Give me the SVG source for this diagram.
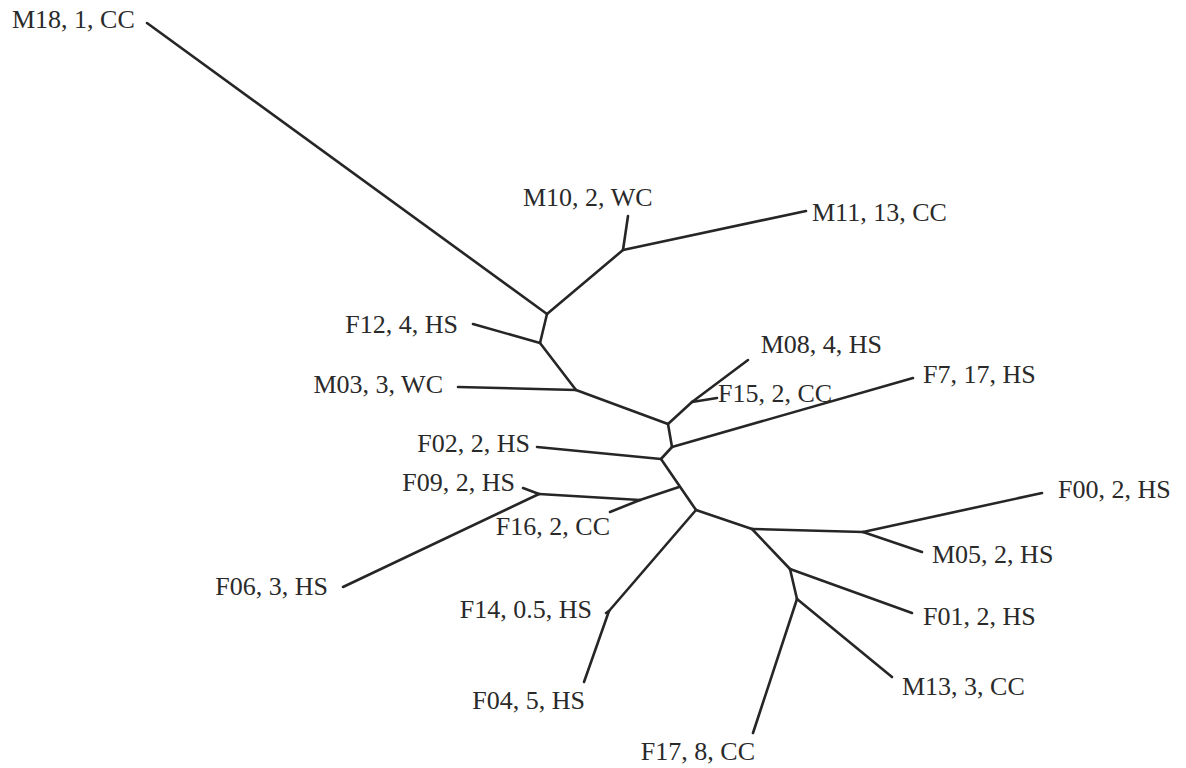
<svg xmlns="http://www.w3.org/2000/svg" width="1186" height="768" viewBox="0 0 1186 768">
<style>
.e{stroke:#262626;stroke-width:2.6;stroke-linecap:round;fill:none}
text{font-family:"Liberation Serif","Times New Roman",serif;font-size:26px;fill:#2a2a2a}
.r{text-anchor:end}
</style>
<rect width="1186" height="768" fill="#ffffff"/>
<g id="connectors">
<path class="e" d="M147,23 L547,314"/>
<path class="e" d="M547,314 L623,250"/>
<path class="e" d="M623,250 L628,216"/>
<path class="e" d="M623,250 L806,211"/>
<path class="e" d="M547,314 L540,343"/>
<path class="e" d="M540,343 L473,324"/>
<path class="e" d="M540,343 L576,390"/>
<path class="e" d="M576,390 L458,387"/>
<path class="e" d="M576,390 L668,424"/>
<path class="e" d="M668,424 L692,402"/>
<path class="e" d="M692,402 L748,360"/>
<path class="e" d="M692,402 L717,398"/>
<path class="e" d="M668,424 L672,447"/>
<path class="e" d="M672,447 L913,378"/>
<path class="e" d="M672,447 L661,459"/>
<path class="e" d="M661,459 L537,447"/>
<path class="e" d="M661,459 L696,510"/>
<path class="e" d="M679,487 L640,500"/>
<path class="e" d="M640,500 L610,512"/>
<path class="e" d="M640,500 L539,494"/>
<path class="e" d="M539,494 L523,488"/>
<path class="e" d="M539,494 L343,587"/>
<path class="e" d="M696,510 L752,529"/>
<path class="e" d="M696,510 L609,611"/>
<path class="e" d="M609,611 L606,613"/>
<path class="e" d="M609,611 L584,682"/>
<path class="e" d="M752,529 L863,532"/>
<path class="e" d="M863,532 L1042,493"/>
<path class="e" d="M863,532 L922,552"/>
<path class="e" d="M752,529 L790,569"/>
<path class="e" d="M790,569 L912,613"/>
<path class="e" d="M790,569 L797,599"/>
<path class="e" d="M797,599 L892,677"/>
<path class="e" d="M797,599 L753,733"/>
</g>
<g id="M18"><text x="12" y="28">M18, 1, CC</text></g>
<g id="M10"><text x="523" y="206">M10, 2, WC</text></g>
<g id="M11"><text x="812" y="221">M11, 13, CC</text></g>
<g id="F12"><text class="r" x="458" y="333">F12, 4, HS</text></g>
<g id="M03"><text class="r" x="443" y="393">M03, 3, WC</text></g>
<g id="M08"><text class="r" x="882" y="353">M08, 4, HS</text></g>
<g id="F15"><text x="718" y="402">F15, 2, CC</text></g>
<g id="F7"><text x="923" y="383">F7, 17, HS</text></g>
<g id="F02"><text class="r" x="530" y="452">F02, 2, HS</text></g>
<g id="F09"><text class="r" x="515" y="491">F09, 2, HS</text></g>
<g id="F16"><text class="r" x="610" y="535">F16, 2, CC</text></g>
<g id="F06"><text class="r" x="328" y="595">F06, 3, HS</text></g>
<g id="F14"><text class="r" x="592" y="618">F14, 0.5, HS</text></g>
<g id="F04"><text class="r" x="585" y="709">F04, 5, HS</text></g>
<g id="F00"><text x="1058" y="498">F00, 2, HS</text></g>
<g id="M05"><text x="932" y="563">M05, 2, HS</text></g>
<g id="F01"><text x="923" y="625">F01, 2, HS</text></g>
<g id="M13"><text x="902" y="695">M13, 3, CC</text></g>
<g id="F17"><text class="r" x="755" y="760">F17, 8, CC</text></g>
</svg>
